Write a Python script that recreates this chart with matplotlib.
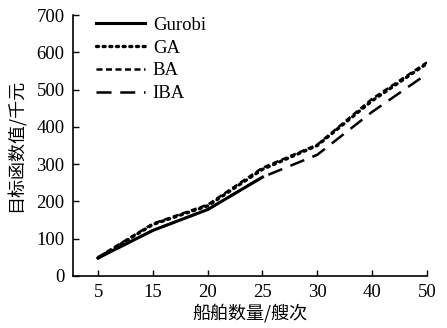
import numpy as np
import matplotlib.pyplot as plt

plt.rcParams['font.family'] = ['Liberation Serif', 'Noto Sans CJK SC']

ships = ['5', '15', '20', '25', '30', '40', '50']
gurobi = [48, 122, 178, 265]
ga = [48, 138, 188, 286, 350, 470, 570]
ba = [50, 140, 191, 290, 352, 475, 573]
iba = [48, 122, 178, 265, 325, 440, 542]

x = np.arange(len(ships))

fig = plt.figure(figsize=(4.47, 3.28), dpi=100)
ax = fig.add_axes([0.163, 0.159, 0.792, 0.795])

ax.plot(x[:len(gurobi)], gurobi, color='black', lw=2.2, label='Gurobi')
ax.plot(x, ga, color='black', lw=2.4, linestyle=(0, (0.6, 1.4)),
        dash_capstyle='round', label='GA')
ax.plot(x, ba, color='black', lw=1.8, linestyle=(0, (2.4, 1.4)), label='BA')
ax.plot(x, iba, color='black', lw=1.8, linestyle=(0, (6, 3.5)), label='IBA')

ax.set_xlim(-0.46, 6.0)
ax.set_ylim(0, 700)
ax.set_xticks(x)
ax.set_xticklabels(ships)
ax.set_yticks(np.arange(0, 701, 100))
ax.tick_params(direction='in', length=4, width=1, labelsize=13.5, pad=6)
ax.spines['top'].set_visible(False)
ax.spines['right'].set_visible(False)
for s in ['left', 'bottom']:
    ax.spines[s].set_linewidth(1.2)

ax.set_xlabel('船舶数量/艘次', fontsize=13, family=['Noto Sans CJK SC'], labelpad=2)
ax.set_ylabel('目标函数值/千元', fontsize=13, family=['Noto Sans CJK SC'], labelpad=8)

ax.legend(loc='upper left', frameon=False, fontsize=13.5, handlelength=2.65,
          handletextpad=0.4, labelspacing=0.3, borderaxespad=0.0,
          bbox_to_anchor=(0.043, 1.022))

fig.savefig('out.png', dpi=100)
